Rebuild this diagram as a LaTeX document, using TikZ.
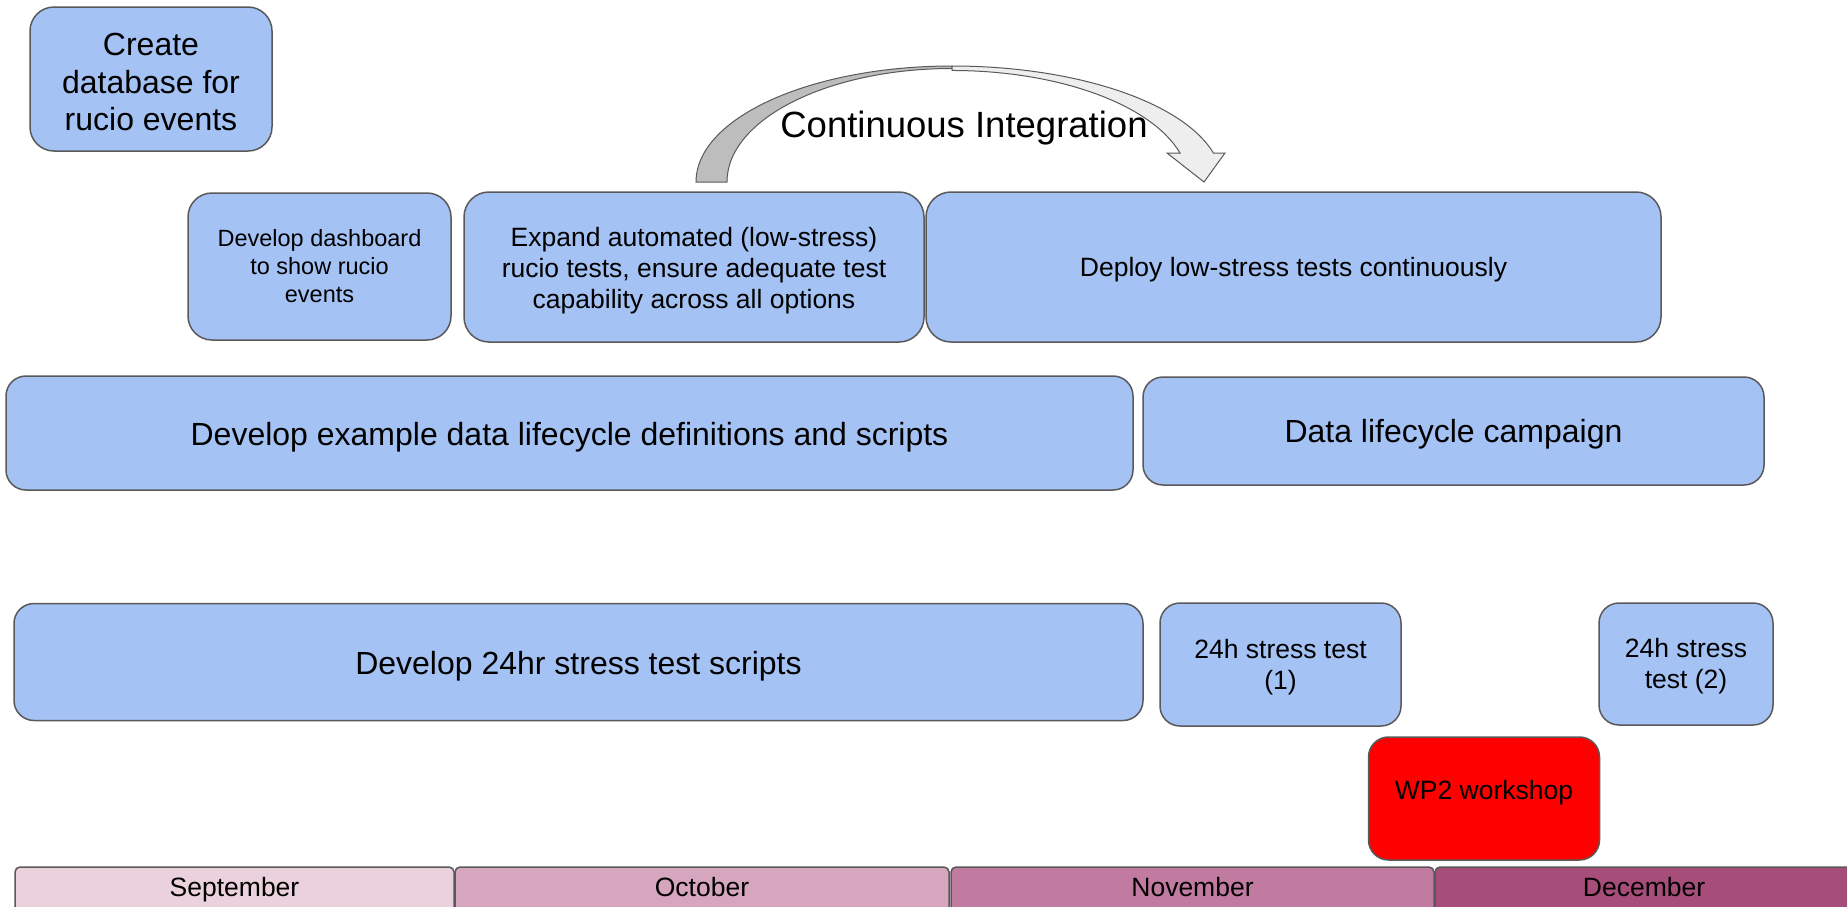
\documentclass[tikz,border=0pt]{standalone}
\usepackage{fontspec}
\setmainfont{Liberation Sans}
\definecolor{taskblue}{HTML}{A4C2F4}
\definecolor{edgegray}{HTML}{595959}
\definecolor{sepcol}{HTML}{EAD1DC}
\definecolor{octcol}{HTML}{D5A6BD}
\definecolor{novcol}{HTML}{C27BA0}
\definecolor{deccol}{HTML}{A64D79}
\definecolor{ciback}{HTML}{BDBDBD}
\definecolor{cifront}{HTML}{EEEEEE}
\newcommand{\bigtxt}{\fontsize{32}{37.5}\selectfont}
\newcommand{\midtxt}{\fontsize{26.5}{31}\selectfont}
\newcommand{\smalltxt}{\fontsize{23.5}{28}\selectfont}
% taller first line, so the text sits a little lower in its box
\newcommand{\downby}[1]{\rule{0pt}{\dimexpr\fontcharht\font`l+#1\relax}}
\tikzset{
  task/.style={draw=edgegray, line width=1.5pt, fill=taskblue, rounded corners=20pt,
    align=center, inner sep=0pt},
  monthbox/.style={draw=edgegray, line width=1.5pt, rounded corners=5pt, inner sep=0pt,
    font=\midtxt, text height=19.5pt, text depth=5.6pt},
}
\begin{document}
\begin{tikzpicture}[x=1pt, y=-1pt]
      \clip (0,0) rectangle (1847,906);
      \node (create) [task, rounded corners=24pt, font=\bigtxt, minimum width=242, minimum height=144]
        at (151,79) {\downby{6.5pt}Create\\database for\\rucio events};
      \node (dash) [task, rounded corners=24pt, font=\smalltxt, minimum width=263, minimum height=147]
        at (319.5,266.5) {Develop dashboard\\to show rucio\\events};
      \node (expand) [task, rounded corners=25pt, font=\midtxt, minimum width=460, minimum height=150]
        at (694,267) {\downby{9pt}Expand automated (low-stress)\\rucio tests, ensure adequate test\\capability across all options};
      \node (deploy) [task, rounded corners=25pt, font=\midtxt, minimum width=735, minimum height=150]
        at (1293.5,267) {\downby{7pt}Deploy low-stress tests continuously};
      \node (lifedev) [task, font=\bigtxt, minimum width=1127, minimum height=114]
        at (569.5,433) {\downby{9pt}Develop example data lifecycle definitions and scripts};
      \node (lifecamp) [task, font=\bigtxt, minimum width=621, minimum height=108]
        at (1453.5,431) {\downby{7pt}Data lifecycle campaign};
      \node (stressdev) [task, font=\bigtxt, minimum width=1129, minimum height=117]
        at (578.5,662) {\downby{9pt}Develop 24hr stress test scripts};
      \node (stressa) [task, font=\midtxt, minimum width=241, minimum height=123]
        at (1280.5,664.5) {\downby{6pt}24h stress test\\(1)};
      \node (stressb) [task, font=\midtxt, minimum width=174, minimum height=122]
        at (1686,664) {\downby{6pt}24h stress\\test (2)};
      \node (workshop) [task, fill=red, font=\midtxt, text height=20pt, text depth=18pt,
        minimum width=231, minimum height=123] at (1484,798.5) {WP2 workshop};
      \node (sep) [monthbox, fill=sepcol, minimum width=439, minimum height=46] at (234.5,890) {September};
      \node (oct) [monthbox, fill=octcol, minimum width=494, minimum height=46] at (702,890) {October};
      \node (nov) [monthbox, fill=novcol, minimum width=483, minimum height=46] at (1192.5,890) {November};
      \node (dec) [monthbox, fill=deccol, minimum width=418, minimum height=46] at (1644,890) {December};
      \begin{scope}[draw=edgegray, line width=1pt]
        \filldraw[fill=ciback] (696,182)
          arc[start angle=180, end angle=90, x radius=256pt, y radius=116pt]
          -- (952,68.5)
          arc[start angle=90, end angle=180, x radius=225pt, y radius=113.5pt] -- cycle;
        \filldraw[fill=cifront] (952,66)
          arc[start angle=90, end angle=14.48, x radius=270pt, y radius=116pt]
          -- (1225,153) -- (1204,182) -- (1167,153) -- (1180,153)
          arc[start angle=15.84, end angle=90, x radius=237pt, y radius=113.5pt] -- cycle;
      \end{scope}
      \node (ci) [font=\fontsize{36.5}{42}\selectfont, anchor=base, inner sep=0pt]
        at (964,137) {Continuous Integration};
\end{tikzpicture}
\end{document}
